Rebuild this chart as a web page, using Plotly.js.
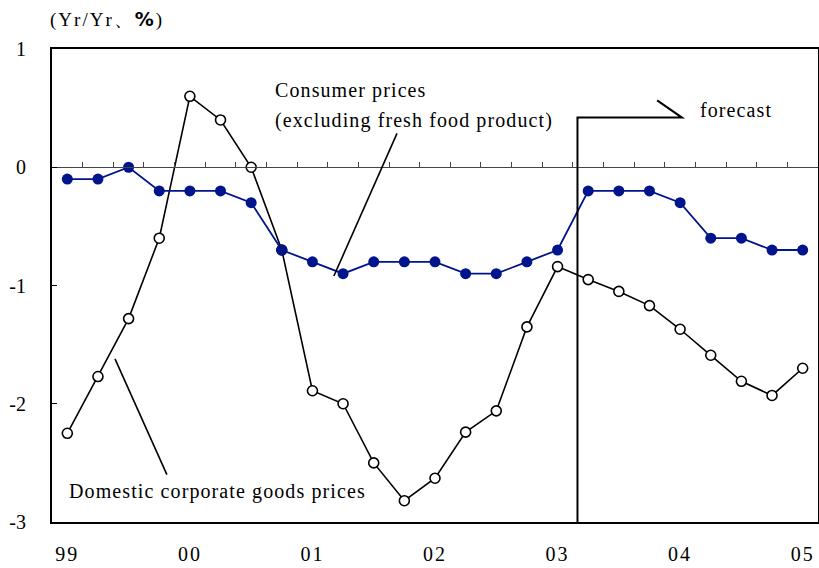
<!DOCTYPE html>
<html>
<head>
<meta charset="utf-8">
<script src="https://cdn.plot.ly/plotly-3.0.1.min.js"></script>
<style>
html,body{margin:0;padding:0;background:#fff;}
#chart{width:819px;height:568px;}
.annotation-text{letter-spacing:1.1px;}
.xtick text{letter-spacing:2px;}
.gtitle{letter-spacing:2px;}
</style>
</head>
<body>
<div id="chart"></div>
<script>
// Quarterly observations, 1999 Q1 – 2005 Q1
const quarters = ["99Q1","99Q2","99Q3","99Q4","00Q1","00Q2","00Q3","00Q4","01Q1","01Q2","01Q3","01Q4",
  "02Q1","02Q2","02Q3","02Q4","03Q1","03Q2","03Q3","03Q4","04Q1","04Q2","04Q3","04Q4","05Q1"];
const consumerPrices = [-0.1,-0.1,0.0,-0.2,-0.2,-0.2,-0.3,-0.7,-0.8,-0.9,-0.8,-0.8,
  -0.8,-0.9,-0.9,-0.8,-0.7,-0.2,-0.2,-0.2,-0.3,-0.6,-0.6,-0.7,-0.7];
const corporateGoods = [-2.25,-1.77,-1.28,-0.6,0.6,0.4,0.0,-0.7,-1.89,-2.0,-2.5,-2.82,
  -2.63,-2.24,-2.06,-1.35,-0.84,-0.95,-1.05,-1.17,-1.37,-1.59,-1.81,-1.93,-1.7];
const yearTickIdx = [0,4,8,12,16,20,24];
const yearTickLabels = ["99","00","01","02","03","04","05"];
const yTicks = [-3,-2,-1,0,1];

const idx = quarters.map((q,i)=>i);
const halfTicks = idx.slice(0,-1).map(i=>i+0.5);

const serif = "Liberation Serif, Times New Roman, serif";

const traces = [
  {x: idx, y: corporateGoods, type:'scatter', mode:'lines+markers', name:'Domestic corporate goods prices',
   line:{color:'#000', width:1.6},
   marker:{symbol:'circle', size:10, color:'#fff', line:{color:'#000', width:1.6}},
   hoverinfo:'skip'},
  {x: idx, y: consumerPrices, type:'scatter', mode:'lines+markers', name:'Consumer prices',
   line:{color:'#00148c', width:1.8},
   marker:{symbol:'circle', size:11, color:'#00148c'},
   hoverinfo:'skip'},
  {x: [], y: [], xaxis:'x2', yaxis:'y', type:'scatter', mode:'markers', showlegend:false, hoverinfo:'skip'}
];

const layout = {
  width:819, height:568,
  margin:{l:52, r:1, t:49, b:46},
  paper_bgcolor:'#fff', plot_bgcolor:'#fff',
  showlegend:false,
  font:{family:serif, size:20, color:'#000'},
  xaxis:{
    range:[-0.5, 24.5], showgrid:false, zeroline:false,
    tickmode:'array', tickvals:yearTickIdx, ticktext:yearTickLabels,
    ticks:'', ticklabelstandoff:13,
    showline:true, linecolor:'#000', linewidth:2, mirror:true,
    tickfont:{family:serif, size:20, color:'#000'}
  },
  xaxis2:{
    overlaying:'x', anchor:'free', position:0.75, side:'top',
    range:[-0.5, 24.5], showgrid:false, zeroline:false,
    tickmode:'array', tickvals:halfTicks, showticklabels:false,
    ticks:'outside', ticklen:5, tickwidth:1, tickcolor:'#444',
    showline:true, linecolor:'#444', linewidth:1
  },
  yaxis:{
    range:[-3, 1], showgrid:false, zeroline:false,
    tickmode:'array', tickvals:yTicks, ticktext:yTicks.map(String),
    ticks:'inside', ticklen:5, tickwidth:1, tickcolor:'#000',
    ticklabelstandoff:20,
    showline:true, linecolor:'#000', linewidth:2, mirror:true,
    tickfont:{family:serif, size:20, color:'#000'}
  },
  title:{
    text:'(Yr/Yr、<span style="font-family:DejaVu Sans, sans-serif;font-weight:bold">%</span>)',
    x:50/819, xanchor:'left', y:1-19/568, yanchor:'middle',
    font:{family:serif, size:19, color:'#000'}
  },
  shapes:[
    // forecast marker
    {type:'path', xref:'x', yref:'y', path:'M16.65,-3 L16.65,0.42 L20.06,0.42 L19.25,0.565',
     line:{color:'#000', width:2}},
    // leader lines
    {type:'line', xref:'x', yref:'y', x0:10.76, y0:0.287, x1:8.70, y1:-0.92, line:{color:'#000', width:1.6}},
    {type:'line', xref:'x', yref:'y', x0:1.556, y0:-1.62, x1:3.25, y1:-2.60, line:{color:'#000', width:1.6}}
  ],
  annotations:[
    {text:'Consumer prices', x:6.71, y:0.65, xref:'x', yref:'y', xanchor:'left', yanchor:'middle', showarrow:false,
     font:{family:serif, size:20, color:'#000'}},
    {text:'(excluding fresh food product)', x:6.71, y:0.397, xref:'x', yref:'y', xanchor:'left', yanchor:'middle', showarrow:false,
     font:{family:serif, size:20, color:'#000'}},
    {text:'forecast', x:20.58, y:0.48, xref:'x', yref:'y', xanchor:'left', yanchor:'middle', showarrow:false,
     font:{family:serif, size:20, color:'#000'}},
    {text:'Domestic corporate goods prices', x:-0.01, y:-2.74, xref:'x', yref:'y', xanchor:'left', yanchor:'middle', showarrow:false,
     font:{family:serif, size:20, color:'#000'}}
  ]
};

Plotly.newPlot('chart', traces, layout, {displayModeBar:false, staticPlot:true});
</script>
</body>
</html>
